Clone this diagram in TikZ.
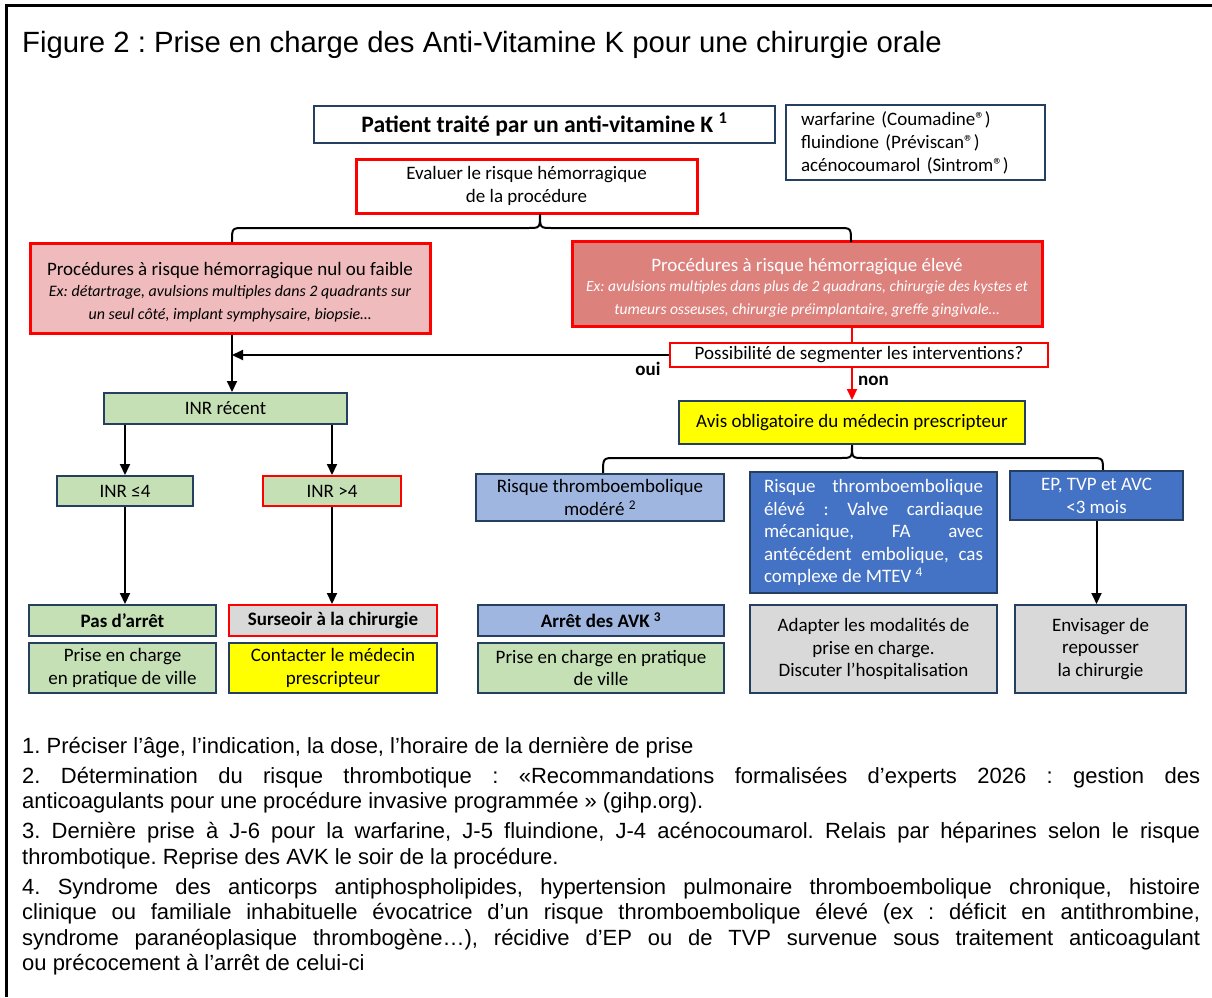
\documentclass[tikz,border=0pt]{standalone}
\usepackage{fontspec}
\setmainfont{Liberation Sans}
\newfontfamily\calfont{Carlito}
\usetikzlibrary{arrows.meta}
\frenchspacing
\definecolor{navy}{HTML}{243F60}
\definecolor{redb}{HTML}{FF0000}
\definecolor{pinkfill}{HTML}{EFBBBC}
\definecolor{rosefill}{HTML}{DD817D}
\definecolor{greenfill}{HTML}{C5E0B4}
\definecolor{lbluefill}{HTML}{9FB6E0}
\definecolor{dbluefill}{HTML}{4472C4}
\definecolor{yellowfill}{HTML}{FFFF00}
\definecolor{greyfill}{HTML}{D9D9D9}
\tikzset{
  nbox/.style={draw=navy, line width=2pt, inner sep=0pt, align=center, font=\calfont\fontsize{19}{22.8}\selectfont},
  rbox/.style={nbox, draw=redb, line width=3pt},
  rthin/.style={nbox, draw=redb, line width=2pt},
  arr/.style={line width=2pt, -{Triangle[width=10pt,length=11pt]}},
  lab/.style={font=\calfont\bfseries\fontsize{19}{22}\selectfont, inner sep=0pt},
  boldtxt/.style={font=\calfont\bfseries\fontsize{19}{22.8}\selectfont},
}
\begin{document}
\begin{tikzpicture}[x=1pt,y=-1pt]
\useasboundingbox (0,0) rectangle (1212,997);
\fill[white] (0,0) rectangle (1212,997);
\draw[line width=3pt] (6,997) -- (6,5) -- (1212,5);

\node[anchor=base west, inner sep=0pt, font=\fontsize{29.3}{33}\selectfont] (title) at (22,52) {Figure 2 : Prise en charge des Anti-Vitamine K pour une chirurgie orale};

% top
\node[nbox, minimum width=461, minimum height=37, font=\calfont\bfseries\fontsize{23.6}{27}\selectfont] (pat) at (544.5,124.5) {Patient traité par un anti-vitamine K \textsuperscript{1}};
\node[nbox, text width=229, align=left, inner xsep=15pt, minimum height=75, font=\calfont\fontsize{19}{23}\selectfont] (drug) at (915.5,142.5) {warfarine (Coumadine®)\\fluindione (Préviscan®)\\acénocoumarol (Sintrom®)};
\node[rbox, fill=white, minimum width=341, minimum height=54, font=\calfont\fontsize{19}{23}\selectfont] (eval) at (526.5,186) {Evaluer le risque hémorragique\\de la procédure};

\node[rbox, fill=pinkfill, minimum width=400, minimum height=90] (low) at (230,288) {\rule{0pt}{22pt}Procédures à risque hémorragique nul ou faible\\[-2pt]\itshape\fontsize{16}{21}\selectfont Ex: détartrage, avulsions multiples dans 2 quadrants sur\\\itshape\fontsize{16}{21}\selectfont un seul côté, implant symphysaire, biopsie…};
\node[rbox, fill=rosefill, text=white, minimum width=470, minimum height=85] (high) at (807,283.5) {\rule{0pt}{22pt}Procédures à risque hémorragique élevé\\[-3pt]\itshape\fontsize{15.5}{20}\selectfont Ex: avulsions multiples dans plus de 2 quadrans, chirurgie des kystes et\\\itshape\fontsize{15.5}{20}\selectfont tumeurs osseuses, chirurgie préimplantaire, greffe gingivale…};

% brace 1
\coordinate (b1tip) at (540,214);
\coordinate (b1l) at (232,242);
\coordinate (b1r) at (851,242);
\draw[line width=2pt] (b1l) .. controls (232,228) .. (244,228) -- (528,228) .. controls (540,228) .. (b1tip) .. controls (540,228) .. (552,228) -- (839,228) .. controls (851,228) .. (b1r);

\node[rthin, fill=white, minimum width=378, minimum height=24] (poss) at (859,355) {Possibilité de segmenter les interventions?};
\node[nbox, fill=yellowfill, minimum width=346, minimum height=43] (avis) at (852,422.5) {Avis obligatoire du médecin prescripteur};

\draw[line width=2pt, draw=redb] (high.south -| avis.north) -- (poss.north -| avis.north);
\draw[arr, draw=redb, fill=redb] (poss.south -| avis.north) -- (avis.north);
\node[lab, anchor=west] (non) at (858,381) {non};

\node[nbox, fill=greenfill, minimum width=243, minimum height=31] (inrrec) at (225.5,408.5) {INR récent};
\draw[arr] (low.south -| b1l) -- (inrrec.north -| b1l);
\draw[arr] (poss.west) -- (poss.west -| b1l);
\node[lab] (oui) at (648,369) {oui};

\node[nbox, fill=greenfill, minimum width=136, minimum height=30] (inrle) at (125,491) {INR ≤4};
\node[rthin, fill=greenfill, minimum width=138, minimum height=30] (inrgt) at (332,491) {INR >4};
\draw[arr] (inrrec.south -| inrle.north) -- (inrle.north);
\draw[arr] (inrrec.south -| inrgt.north) -- (inrgt.north);

% brace 2
\coordinate (b2l) at (603,474);
\coordinate (b2r) at (1103,472);
\draw[line width=2pt] (b2l) .. controls (603,458) .. (615,458) -- (840,458) .. controls (852,458) .. (avis.south) .. controls (852,458) .. (864,458) -- (1091,458) .. controls (1103,458) .. (b2r);

\node[nbox, fill=lbluefill, minimum width=248, minimum height=47] (mod) at (600,497.5) {Risque thromboembolique\\modéré \textsuperscript{2}};
\node[nbox, fill=dbluefill, text=white, text width=219, align=justify, inner xsep=14pt, minimum height=121, font=\calfont\fontsize{19}{22.5}\selectfont] (elev) at (873.5,532.5) {Risque thromboembolique\linebreak élévé : Valve cardiaque\linebreak mécanique, FA avec\linebreak antécédent embolique, cas\linebreak complexe de MTEV \textsuperscript{4}};
\node[nbox, fill=dbluefill, text=white, minimum width=173, minimum height=49] (ep) at (1096.5,495.5) {EP, TVP et AVC\\<3 mois};

% bottom row
\node[nbox, boldtxt, fill=greenfill, minimum width=187, minimum height=31] (pas) at (122.5,620.5) {Pas d’arrêt};
\node[nbox, fill=greenfill, minimum width=187, minimum height=50] (prise1) at (122.5,668) {Prise en charge\\en pratique de ville};
\node[rthin, boldtxt, fill=greyfill, minimum width=208, minimum height=31] (surs) at (333,620.5) {Surseoir à la chirurgie};
\node[nbox, fill=yellowfill, minimum width=208, minimum height=50] (cont) at (333,668) {Contacter le médecin\\prescripteur};
\node[nbox, boldtxt, fill=lbluefill, minimum width=246, minimum height=31] (arret) at (601,620.5) {Arrêt des AVK \textsuperscript{3}};
\node[nbox, fill=greenfill, minimum width=246, minimum height=50] (prise2) at (601,668) {Prise en charge en pratique\\de ville};
\node[nbox, fill=greyfill, minimum width=247, minimum height=88] (adapt) at (873.5,649) {Adapter les modalités de\\prise en charge.\\Discuter l’hospitalisation};
\node[nbox, fill=greyfill, minimum width=171, minimum height=88] (envis) at (1100.5,649) {Envisager de\\repousser\\la chirurgie};

\draw[arr] (inrle.south) -- (inrle.south |- pas.north);
\draw[arr] (inrgt.south) -- (inrgt.south |- surs.north);
\draw[arr] (ep.south) -- (ep.south |- envis.north);

% notes
\node[anchor=north west, inner sep=0pt, text width=1178pt, align=justify, font=\fontsize{22}{25.5}\selectfont] (notes) at (22,737) {\hyphenpenalty=10000\exhyphenpenalty=10000\setlength{\parskip}{4.5pt}\emergencystretch=20pt%
1. Préciser l’âge, l’indication, la dose, l’horaire de la dernière de prise\par
2. Détermination du risque thrombotique : «Recommandations formalisées d’experts 2026 : gestion des\linebreak anticoagulants pour une procédure invasive programmée » (gihp.org).\par
3. Dernière prise à J-6 pour la warfarine, J-5 fluindione, J-4 acénocoumarol. Relais par héparines selon le risque\linebreak thrombotique. Reprise des AVK le soir de la procédure.\par
4. Syndrome des anticorps antiphospholipides, hypertension pulmonaire thromboembolique chronique, histoire\linebreak clinique ou familiale inhabituelle évocatrice d’un risque thromboembolique élevé (ex : déficit en antithrombine,\linebreak syndrome paranéoplasique thrombogène…), récidive d’EP ou de TVP survenue sous traitement anticoagulant\linebreak ou précocement à l’arrêt de celui-ci\par};
\end{tikzpicture}
\end{document}
